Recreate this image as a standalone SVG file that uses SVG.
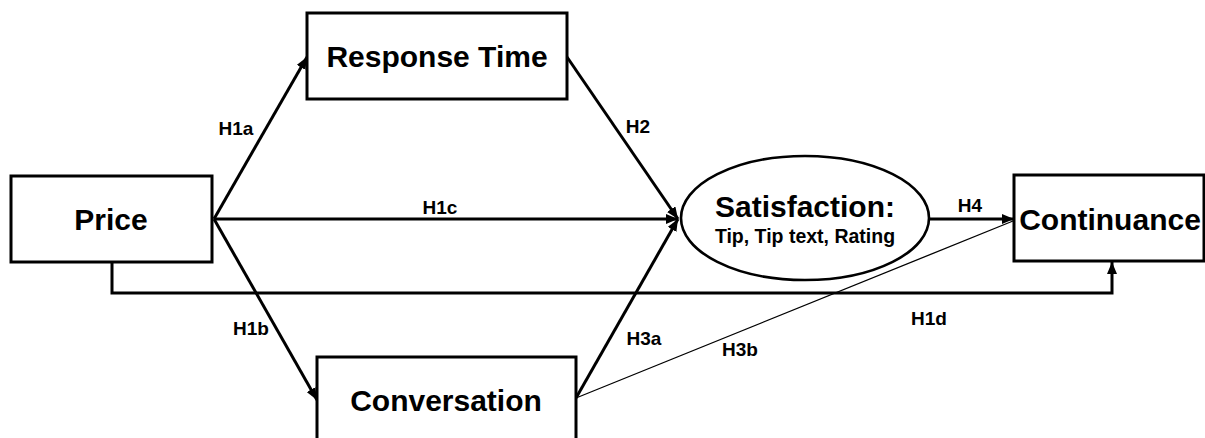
<svg xmlns="http://www.w3.org/2000/svg" width="1205" height="438" viewBox="0 0 1205 438">
<style>
.box{fill:#fff;stroke:#000;stroke-width:3}
.ell{fill:#fff;stroke:#000;stroke-width:2.6}
.t{font-family:"Liberation Sans",Arial,sans-serif;font-weight:bold;fill:#000;text-anchor:middle}
.big{font-size:30px}
.sub{font-size:19.5px}
.lbl{font-size:19px}
.ln{fill:none;stroke:#000;stroke-width:3}
.thin{fill:none;stroke:#000;stroke-width:1.3}
</style>
<defs>
<marker id="arr" markerUnits="userSpaceOnUse" markerWidth="13" markerHeight="10" refX="12" refY="5" orient="auto">
<path d="M0,0 L12,5 L0,10 z" fill="#000"/>
</marker>
</defs>
<rect width="1205" height="438" fill="#fff"/>
<g id="connectors">
<line class="ln" x1="214" y1="219" x2="307" y2="57" marker-end="url(#arr)"/>
<line class="ln" x1="214" y1="219" x2="317" y2="400" marker-end="url(#arr)"/>
<line class="ln" x1="214" y1="219" x2="678" y2="219" marker-end="url(#arr)"/>
<line class="ln" x1="567" y1="57" x2="678" y2="219" marker-end="url(#arr)"/>
<line class="ln" x1="576" y1="398" x2="678" y2="219" marker-end="url(#arr)"/>
<line class="thin" x1="576" y1="398" x2="1013" y2="221"/>
<line class="ln" x1="929" y1="219" x2="1014" y2="219" marker-end="url(#arr)"/>
<path class="ln" d="M112,262 V293 H1112 V262" marker-end="url(#arr)"/>
<text class="t lbl" x="236" y="135">H1a</text>
<text class="t lbl" x="251" y="335">H1b</text>
<text class="t lbl" x="440" y="214">H1c</text>
<text class="t lbl" x="638" y="133">H2</text>
<text class="t lbl" x="644" y="345">H3a</text>
<text class="t lbl" x="740" y="356">H3b</text>
<text class="t lbl" x="970" y="212">H4</text>
<text class="t lbl" x="929" y="325">H1d</text>
</g>
<g id="price">
<rect class="box" x="11" y="176" width="201" height="86"/>
<text class="t big" x="111" y="230">Price</text>
</g>
<g id="response-time">
<rect class="box" x="307" y="13" width="260" height="86"/>
<text class="t big" x="437" y="67">Response Time</text>
</g>
<g id="conversation">
<rect class="box" x="317" y="357" width="259" height="100"/>
<text class="t big" x="446" y="411">Conversation</text>
</g>
<g id="satisfaction">
<ellipse class="ell" cx="805" cy="218" rx="124" ry="62"/>
<text class="t big" x="805" y="217">Satisfaction:</text>
<text class="t sub" x="805" y="243">Tip, Tip text, Rating</text>
</g>
<g id="continuance">
<rect class="box" x="1014" y="175" width="190" height="86"/>
<text class="t big" x="1110" y="230">Continuance</text>
</g>
</svg>
